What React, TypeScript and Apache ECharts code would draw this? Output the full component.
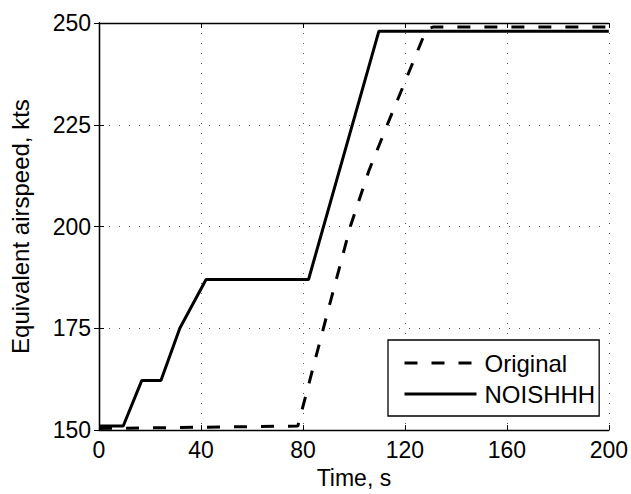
import React, { useEffect, useRef } from "react";
import * as echarts from "echarts";

const xTicks = [0, 40, 80, 120, 160, 200];
const yTicks = [150, 175, 200, 225, 250];

const originalSeries: [number, number][] = [
  [0, 150.4], [78, 151], [90, 179.7], [98.6, 200], [105.8, 213.6],
  [113.3, 225.3], [120, 235.5], [128.5, 248.5], [131, 249], [200, 249],
];
const noishhhSeries: [number, number][] = [
  [0, 151], [9.5, 151], [16.8, 162.2], [24.3, 162.2], [31.7, 175],
  [42, 187], [82.2, 187], [109.8, 248], [200, 248],
];

const FONT = "Liberation Sans, Arial, Helvetica, sans-serif";

export default function App() {
  const ref = useRef<HTMLDivElement>(null);
  useEffect(() => {
    if (!ref.current) return;
    const chart = echarts.init(ref.current, undefined, { renderer: "svg" });
    const xMin = xTicks[0], xMax = xTicks[xTicks.length - 1];
    const yMin = yTicks[0], yMax = yTicks[yTicks.length - 1];
    const axisLine = { show: true, lineStyle: { color: "#000", width: 1.3 } };
    const tick = { show: true, inside: true, length: 5, lineStyle: { color: "#000", width: 1 } };
    const grid = { show: true, lineStyle: { color: "#555", width: 1, type: [1, 9] as any } };
    chart.setOption({
      animation: false,
      backgroundColor: "#fff",
      textStyle: { fontFamily: FONT },
      grid: { left: 95, right: 21, top: 23, bottom: 58, containLabel: false },
      legend: {
        orient: "vertical",
        left: 388,
        top: 340,
        backgroundColor: "#fff",
        borderColor: "#000",
        borderWidth: 1.3,
        borderRadius: 0,
        padding: [10, 4, 9, 15],
        itemWidth: 72,
        itemHeight: 14,
        itemGap: 5,
        itemStyle: { opacity: 0, color: "rgba(0,0,0,0)", borderWidth: 0 },
        lineStyle: { width: 3 },
        textStyle: { fontSize: 24, lineHeight: 26, color: "#000", fontFamily: FONT, padding: [0, 0, 0, 3] },
        data: ["Original", "NOISHHH"],
      },
      xAxis: [
        {
          type: "value", min: xMin, max: xMax, interval: 40, position: "bottom",
          name: "Time, s", nameLocation: "middle", nameGap: 32,
          nameTextStyle: { fontSize: 23, color: "#000", fontFamily: FONT },
          axisLine, axisTick: tick, splitLine: grid,
          axisLabel: { fontSize: 23, color: "#000", margin: 8, fontFamily: FONT },
        },
        {
          type: "value", min: xMin, max: xMax, interval: 40, position: "top",
          axisLine, axisTick: tick, splitLine: { show: false }, axisLabel: { show: false },
        },
      ],
      yAxis: [
        {
          type: "value", min: yMin, max: yMax, interval: 25, position: "left",
          name: "Equivalent airspeed, kts", nameLocation: "middle", nameGap: 67,
          nameTextStyle: { fontSize: 24, color: "#000", fontFamily: FONT },
          axisLine, axisTick: tick, splitLine: grid,
          axisLabel: { fontSize: 23, color: "#000", margin: 8, fontFamily: FONT },
        },
        {
          type: "value", min: yMin, max: yMax, interval: 25, position: "right",
          axisLine, axisTick: tick, splitLine: { show: false }, axisLabel: { show: false },
        },
      ],
      series: [
        {
          name: "Original", type: "line", data: originalSeries, symbol: "none",
          xAxisIndex: 0, yAxisIndex: 0,
          lineStyle: { color: "#000", width: 3, type: [13, 14] as any },
          itemStyle: { color: "#000" },
        },
        {
          name: "NOISHHH", type: "line", data: noishhhSeries, symbol: "none",
          xAxisIndex: 0, yAxisIndex: 0,
          lineStyle: { color: "#000", width: 3, type: "solid" },
          itemStyle: { color: "#000" },
        },
      ],
    });
    return () => chart.dispose();
  }, []);
  return (
    <div
      ref={ref}
      style={{ position: "fixed", left: 0, top: 0, width: 631, height: 494, background: "#fff" }}
    />
  );
}
